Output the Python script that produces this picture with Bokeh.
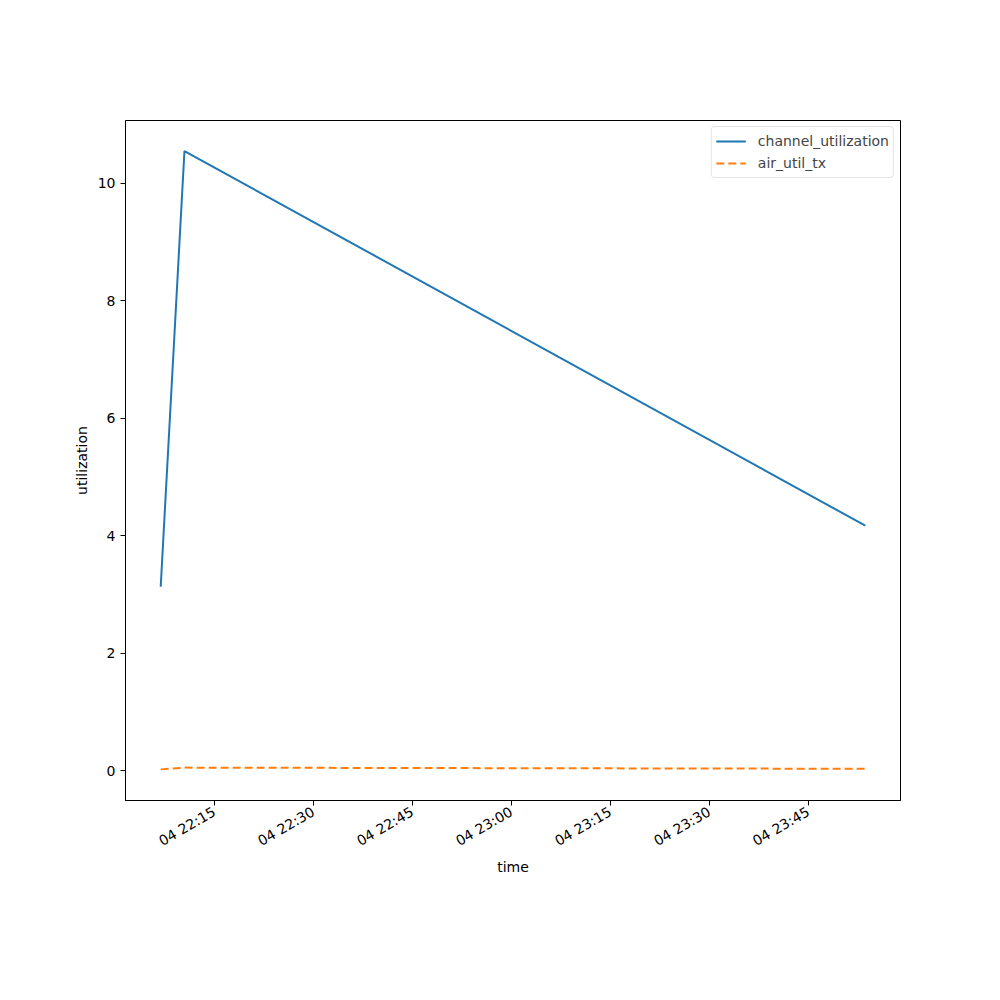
import math
from datetime import datetime
from bokeh.plotting import figure
from bokeh.models import Range1d, FixedTicker, DatetimeTickFormatter, Legend, LegendItem
from bokeh.embed import file_html
from bokeh.resources import INLINE

times = [datetime(2024, 1, 4, 22, 6, 54), datetime(2024, 1, 4, 22, 10, 30), datetime(2024, 1, 4, 23, 53, 40)]
channel_utilization = [3.13, 10.55, 4.17]
air_util_tx = [0.02, 0.05, 0.03]
x_tick_times = [datetime(2024, 1, 4, 22, 15), datetime(2024, 1, 4, 22, 30), datetime(2024, 1, 4, 22, 45),
                datetime(2024, 1, 4, 23, 0), datetime(2024, 1, 4, 23, 15), datetime(2024, 1, 4, 23, 30),
                datetime(2024, 1, 4, 23, 45)]
y_ticks = [0, 2, 4, 6, 8, 10]

FONT = "DejaVu Sans"
W, H = 1000, 1000
p = figure(width=W, height=H, x_axis_type="datetime", output_backend="svg", toolbar_location=None,
           min_border_left=125, min_border_right=W - 900, min_border_top=120, min_border_bottom=H - 800)

p.x_range = Range1d(datetime(2024, 1, 4, 22, 1, 34), datetime(2024, 1, 4, 23, 59, 0))
p.y_range = Range1d(-0.51, 11.07)

l1 = p.line(times, channel_utilization, line_color="#1f77b4", line_width=2)
l2 = p.line(times, air_util_tx, line_color="#ff7f0e", line_width=2, line_dash="8 4")

p.xgrid.visible = False
p.ygrid.visible = False
p.outline_line_color = "black"
p.outline_line_alpha = 1
p.outline_line_width = 1
p.background_fill_color = "white"
p.border_fill_color = "white"

epoch = datetime(1970, 1, 1)
p.xaxis.ticker = FixedTicker(ticks=[(t - epoch).total_seconds() * 1000 for t in x_tick_times])
fmt = "%d %H:%M"
p.xaxis.formatter = DatetimeTickFormatter(microseconds=fmt, milliseconds=fmt, seconds=fmt, minsec=fmt,
                                          minutes=fmt, hourmin=fmt, hours=fmt, days=fmt,
                                          context=None)
p.xaxis.major_label_orientation = math.pi / 6
p.yaxis.ticker = FixedTicker(ticks=y_ticks)

for ax in (p.xaxis[0], p.yaxis[0]):
    ax.axis_line_color = "black"
    ax.major_tick_line_color = "black"
    ax.major_tick_out = 5
    ax.major_tick_in = 0
    ax.minor_tick_line_color = None
    ax.major_label_text_font = FONT
    ax.major_label_text_font_size = "14px"
    ax.major_label_text_color = "black"
    ax.axis_label_text_font = FONT
    ax.axis_label_text_font_size = "14px"
    ax.axis_label_text_font_style = "normal"
    ax.axis_label_text_color = "black"

p.xaxis.axis_label = "time"
p.xaxis.axis_label_standoff = 0
p.yaxis.axis_label = "utilization"

legend = Legend(items=[LegendItem(label="channel_utilization", renderers=[l1]),
                       LegendItem(label="air_util_tx", renderers=[l2])],
                location="top_right")
legend.label_text_font = FONT
legend.label_text_font_size = "14px"
legend.border_line_color = "#cccccc"
legend.border_line_width = 1
legend.border_radius = 4
legend.margin = 6
legend.padding = 4
legend.spacing = 2
legend.glyph_width = 30
legend.label_standoff = 12
p.add_layout(legend)

open("out.html", "w").write(file_html(p, INLINE))
